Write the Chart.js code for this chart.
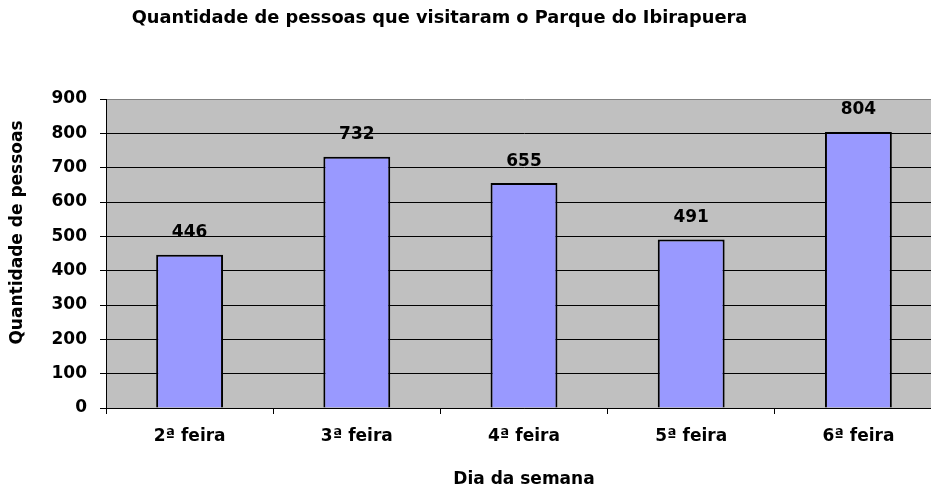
<!DOCTYPE html>
<html><head><meta charset="utf-8">
<script src="https://cdn.jsdelivr.net/npm/chart.js@4/dist/chart.umd.min.js"></script>
<style>html,body{margin:0;padding:0;overflow:hidden;background:#fff;width:931px;height:490px}canvas{display:block}</style>
</head><body>
<canvas id="c" width="960" height="490"></canvas>
<script>
const categories = ['2ª feira', '3ª feira', '4ª feira', '5ª feira', '6ª feira'];
const visitors = [446, 732, 655, 491, 804];
const yTickValues = [0, 100, 200, 300, 400, 500, 600, 700, 800, 900];
const chartTitle = 'Quantidade de pessoas que visitaram o Parque do Ibirapuera';
const xAxisTitle = 'Dia da semana';
const yAxisTitle = 'Quantidade de pessoas';

const FAMILY = '"DejaVu Sans", sans-serif';

const decor = {
  id: 'decor',
  beforeDraw(chart) {
    const {ctx, chartArea: a} = chart;
    ctx.save();
    ctx.fillStyle = '#C0C0C0';
    ctx.fillRect(a.left, a.top, a.right - a.left, a.bottom - a.top);
    ctx.restore();
  },
  afterDatasetsDraw(chart) {
    const {ctx} = chart;
    const meta = chart.getDatasetMeta(0);
    ctx.save();
    ctx.fillStyle = '#000';
    ctx.font = 'bold 17px ' + FAMILY;
    ctx.textAlign = 'center';
    ctx.textBaseline = 'middle';
    meta.data.forEach((bar, i) => {
      ctx.fillText(String(visitors[i]), bar.x, bar.y - 22);
    });
    ctx.restore();
  },
  afterDraw(chart) {
    const {ctx} = chart;
    ctx.save();
    ctx.fillStyle = '#000';
    ctx.font = 'bold 17.8px ' + FAMILY;
    ctx.textAlign = 'center';
    ctx.textBaseline = 'alphabetic';
    ctx.fillText(chartTitle, 439.5, 23);
    ctx.font = 'bold 17px ' + FAMILY;
    ctx.translate(18, 232.5);
    ctx.rotate(-Math.PI / 2);
    ctx.textBaseline = 'middle';
    ctx.fillText(yAxisTitle, 0, 0);
    ctx.restore();
  }
};

new Chart(document.getElementById('c'), {
  type: 'bar',
  data: {
    labels: categories,
    datasets: [{
      data: visitors,
      backgroundColor: '#9999FF',
      borderColor: '#000000',
      borderWidth: 2,
      borderSkipped: 'start',
      barPercentage: 0.4,
      categoryPercentage: 1.0
    }]
  },
  options: {
    responsive: false,
    animation: false,
    devicePixelRatio: 1,
    layout: {padding: {left: 0, right: 18, top: 99, bottom: 0}},
    plugins: {legend: {display: false}, title: {display: false}, tooltip: {enabled: false}},
    scales: {
      x: {
        grid: {offset: true, drawOnChartArea: false, drawTicks: true, tickLength: 6, color: '#000'},
        border: {display: true, color: '#000', width: 1},
        ticks: {color: '#000', padding: 12, font: {family: FAMILY, size: 17, weight: 'bold'}},
        title: {display: true, text: xAxisTitle, color: '#000', padding: {top: 0, bottom: 0},
                font: {family: FAMILY, size: 17, weight: 'bold'}},
        afterFit(s) { s.height = 82; }
      },
      y: {
        min: 0, max: 900,
        afterBuildTicks(s) { s.ticks = yTickValues.map(v => ({value: v})); },
        grid: {color: (c) => (c.tick && c.tick.value === 900 ? '#808080' : '#000'), tickLength: 6, drawTicks: true,
               tickColor: '#000'},
        border: {display: true, color: '#000', width: 1},
        ticks: {color: '#000', padding: 13, font: {family: FAMILY, size: 17, weight: 'bold'}},
        afterFit(s) { s.width = 106; }
      }
    }
  },
  plugins: [decor]
});
</script>
</body></html>
